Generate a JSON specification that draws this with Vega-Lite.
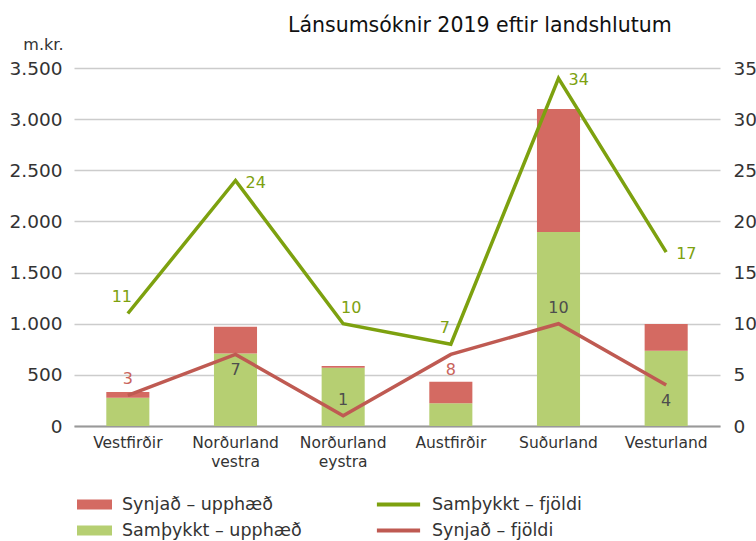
{
  "$schema": "https://vega.github.io/schema/vega-lite/v6.json",
  "width": 646,
  "height": 358,
  "autosize": "none",
  "padding": {"left": 74, "top": 68, "right": 36, "bottom": 115},
  "background": "white",
  "config": {
    "font": "DejaVu Sans",
    "view": {"stroke": null},
    "axis": {"labelFont": "DejaVu Sans", "titleFont": "DejaVu Sans", "labelColor": "#333", "labelFontSize": 18.5},
    "legend": {"labelFont": "DejaVu Sans", "labelFontSize": 17.5, "labelColor": "#333", "padding": 0, "labelLimit": 400},
    "text": {"font": "DejaVu Sans"}
  },
  "title": {
    "text": "Lánsumsóknir 2019 eftir landshlutum",
    "anchor": "start",
    "frame": "group",
    "dx": 214,
    "fontSize": 20.5,
    "fontWeight": "normal",
    "font": "DejaVu Sans",
    "color": "#111",
    "offset": 0
  },
  "datasets": {
    "bars": [
      {"region": "Vestfirðir", "series": "Samþykkt – upphæð", "value": 277},
      {"region": "Vestfirðir", "series": "Synjað – upphæð", "value": 55},
      {"region": "Norðurland vestra", "series": "Samþykkt – upphæð", "value": 710},
      {"region": "Norðurland vestra", "series": "Synjað – upphæð", "value": 260},
      {"region": "Norðurland eystra", "series": "Samþykkt – upphæð", "value": 570},
      {"region": "Norðurland eystra", "series": "Synjað – upphæð", "value": 17},
      {"region": "Austfirðir", "series": "Samþykkt – upphæð", "value": 222},
      {"region": "Austfirðir", "series": "Synjað – upphæð", "value": 211},
      {"region": "Suðurland", "series": "Samþykkt – upphæð", "value": 1896},
      {"region": "Suðurland", "series": "Synjað – upphæð", "value": 1203},
      {"region": "Vesturland", "series": "Samþykkt – upphæð", "value": 736},
      {"region": "Vesturland", "series": "Synjað – upphæð", "value": 261}
    ],
    "lines": [
      {"region": "Vestfirðir", "series": "Samþykkt – fjöldi", "count": 11, "label": "11"},
      {"region": "Norðurland vestra", "series": "Samþykkt – fjöldi", "count": 24, "label": "24"},
      {"region": "Norðurland eystra", "series": "Samþykkt – fjöldi", "count": 10, "label": "10"},
      {"region": "Austfirðir", "series": "Samþykkt – fjöldi", "count": 8, "label": "7"},
      {"region": "Suðurland", "series": "Samþykkt – fjöldi", "count": 34, "label": "34"},
      {"region": "Vesturland", "series": "Samþykkt – fjöldi", "count": 17, "label": "17"},
      {"region": "Vestfirðir", "series": "Synjað – fjöldi", "count": 3, "label": "3"},
      {"region": "Norðurland vestra", "series": "Synjað – fjöldi", "count": 7, "label": "7"},
      {"region": "Norðurland eystra", "series": "Synjað – fjöldi", "count": 1, "label": "1"},
      {"region": "Austfirðir", "series": "Synjað – fjöldi", "count": 7, "label": "8"},
      {"region": "Suðurland", "series": "Synjað – fjöldi", "count": 10, "label": "10"},
      {"region": "Vesturland", "series": "Synjað – fjöldi", "count": 4, "label": "4"}
    ]
  },
  "encoding": {
    "x": {
      "field": "region",
      "type": "nominal",
      "sort": ["Vestfirðir", "Norðurland vestra", "Norðurland eystra", "Austfirðir", "Suðurland", "Vesturland"],
      "scale": {"paddingInner": 0.6, "paddingOuter": 0.3},
      "axis": {
        "title": null,
        "labelAngle": 0,
        "labelExpr": "split(datum.label, ' ')",
        "labelFontSize": 15.5,
        "labelPadding": 9,
        "labelLineHeight": 19,
        "ticks": false,
        "domainColor": "#999",
        "domainWidth": 2
      }
    }
  },
  "layer": [
    {
      "data": {"name": "bars"},
      "mark": {"type": "bar"},
      "encoding": {
        "y": {
          "field": "value",
          "type": "quantitative",
          "aggregate": "sum",
          "stack": "zero",
          "scale": {"domain": [0, 3500], "nice": false},
          "axis": {
            "title": "m.kr.",
            "titleAngle": 0,
            "titleAlign": "right",
            "titleBaseline": "middle",
            "titleX": -11,
            "titleY": -24,
            "titleFontSize": 16,
            "titleFontWeight": "normal",
            "titleColor": "#333",
            "values": [0, 500, 1000, 1500, 2000, 2500, 3000, 3500],
            "labelExpr": "replace(format(datum.value, ','), ',', '.')",
            "labelPadding": 12,
            "ticks": false,
            "domain": false,
            "grid": true,
            "gridColor": "#cccccc",
            "gridWidth": 1.5
          }
        },
        "fill": {
          "field": "series",
          "type": "nominal",
          "scale": {"domain": ["Synjað – upphæð", "Samþykkt – upphæð"], "range": ["#D46A62", "#B6CF72"]},
          "legend": {
            "title": null,
            "orient": "none",
            "legendX": 3,
            "legendY": 419,
            "symbolType": "M-1,-0.29H1V0.29H-1Z",
            "symbolSize": 1225,
            "symbolStrokeWidth": 0,
            "labelOffset": 10,
            "rowPadding": -6
          }
        },
        "order": {"field": "series", "sort": "ascending"}
      }
    },
    {
      "data": {"name": "lines"},
      "layer": [
        {
          "mark": {"type": "line", "strokeWidth": 3.5},
          "encoding": {
            "y": {
              "field": "count",
              "type": "quantitative",
              "scale": {"domain": [0, 35], "nice": false},
              "axis": {
                "orient": "right",
                "title": null,
                "values": [0, 5, 10, 15, 20, 25, 30, 35],
                "labelPadding": 13,
                "ticks": false,
                "domain": false,
                "grid": false
              }
            },
            "stroke": {
              "field": "series",
              "type": "nominal",
              "scale": {"domain": ["Samþykkt – fjöldi", "Synjað – fjöldi"], "range": ["#7DA10F", "#BF5A52"]},
              "legend": {
                "title": null,
                "orient": "none",
                "legendX": 309,
                "legendY": 421,
                "symbolType": "M-1.6,0H1.6",
                "symbolSize": 729,
                "symbolStrokeWidth": 4,
                "labelOffset": 18,
                "rowPadding": 2
              }
            }
          }
        },
        {
          "transform": [{"filter": "datum.series === 'Samþykkt – fjöldi' && indexof(['Norðurland vestra','Suðurland','Vesturland'], datum.region) >= 0"}],
          "mark": {"type": "text", "align": "left", "baseline": "middle", "dx": 10, "dy": 2, "fontSize": 16, "color": "#7DA10F"},
          "encoding": {"y": {"field": "count", "type": "quantitative"}, "text": {"field": "label"}}
        },
        {
          "transform": [{"filter": "datum.series === 'Samþykkt – fjöldi' && indexof(['Vestfirðir','Austfirðir'], datum.region) >= 0"}],
          "mark": {"type": "text", "align": "center", "baseline": "middle", "dx": -6, "dy": -16, "fontSize": 16, "color": "#7DA10F"},
          "encoding": {"y": {"field": "count", "type": "quantitative"}, "text": {"field": "label"}}
        },
        {
          "transform": [{"filter": "datum.series === 'Samþykkt – fjöldi' && datum.region === 'Norðurland eystra'"}],
          "mark": {"type": "text", "align": "center", "baseline": "middle", "dx": 8, "dy": -16, "fontSize": 16, "color": "#7DA10F"},
          "encoding": {"y": {"field": "count", "type": "quantitative"}, "text": {"field": "label"}}
        },
        {
          "transform": [{"filter": "datum.series === 'Synjað – fjöldi' && indexof(['Vestfirðir','Norðurland eystra','Suðurland'], datum.region) >= 0"}],
          "mark": {"type": "text", "align": "center", "baseline": "middle", "dy": -16, "fontSize": 16},
          "encoding": {
            "y": {"field": "count", "type": "quantitative"},
            "text": {"field": "label"},
            "color": {"condition": {"test": "datum.region === 'Vestfirðir'", "value": "#C9645B"}, "value": "#4d4d4d"}
          }
        },
        {
          "transform": [{"filter": "datum.series === 'Synjað – fjöldi' && indexof(['Norðurland vestra','Austfirðir','Vesturland'], datum.region) >= 0"}],
          "mark": {"type": "text", "align": "center", "baseline": "middle", "dy": 16, "fontSize": 16},
          "encoding": {
            "y": {"field": "count", "type": "quantitative"},
            "text": {"field": "label"},
            "color": {"condition": {"test": "datum.region === 'Austfirðir'", "value": "#C9645B"}, "value": "#4d4d4d"}
          }
        }
      ]
    }
  ],
  "resolve": {"scale": {"y": "independent"}}
}
